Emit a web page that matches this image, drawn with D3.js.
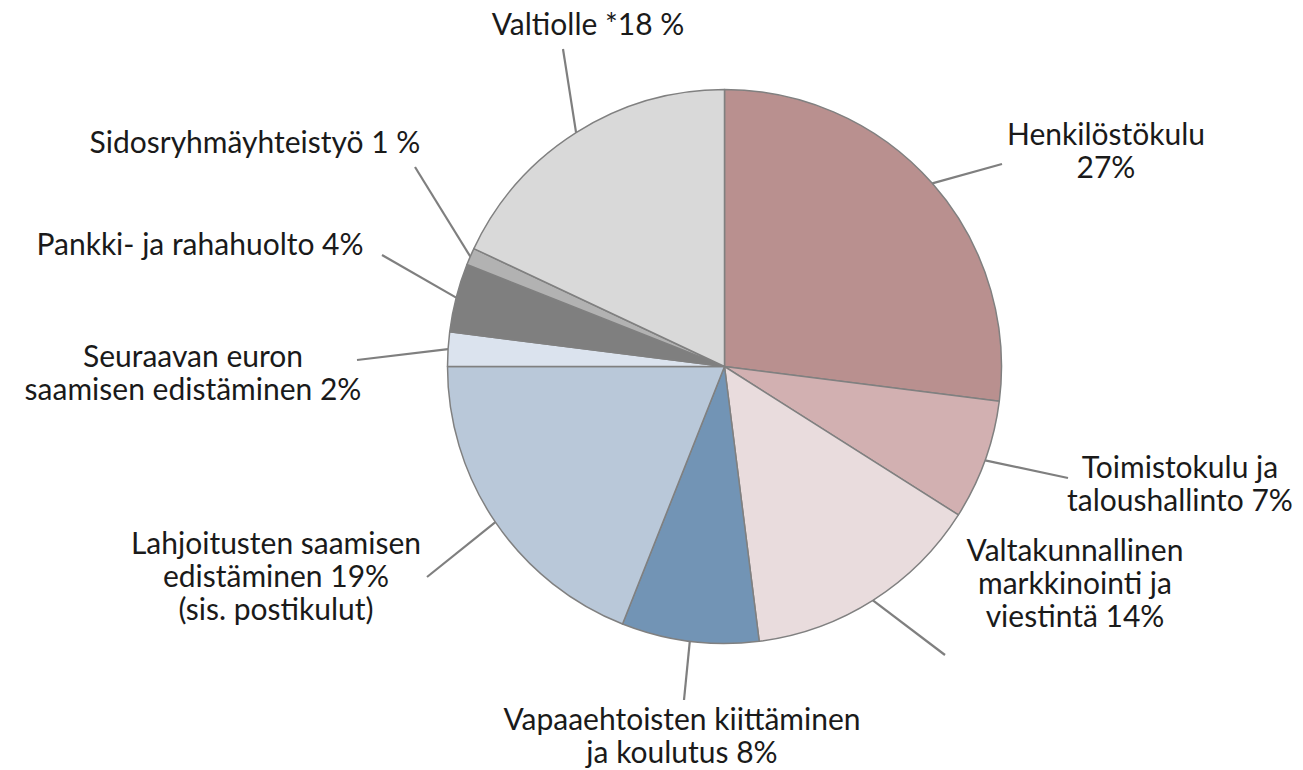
<!DOCTYPE html>
<html>
    <head>
        <meta charset="utf-8">
        <script src="https://cdn.jsdelivr.net/npm/d3@7"></script>
        <title>Kulujen jakauma</title>
    </head>
    <style>
        body { margin: 0; background: #ffffff; }
        text { font-family: Lato, "Open Sans", sans-serif; fill: #1a1a1a; }
    </style>
    <body></body>

    <script>
        // Data (clockwise from 12 o'clock)
        var categories = ["Henkilöstökulu", "Toimistokulu ja taloushallinto", "Valtakunnallinen markkinointi ja viestintä",
                          "Vapaaehtoisten kiittäminen ja koulutus", "Lahjoitusten saamisen edistäminen (sis. postikulut)",
                          "Seuraavan euron saamisen edistäminen", "Pankki- ja rahahuolto", "Sidosryhmäyhteistyö", "Valtiolle"];
        var values = [27, 7, 14, 8, 19, 2, 4, 1, 18];
        var labelLines = [
            ["Henkilöstökulu", "27%"],
            ["Toimistokulu ja", "taloushallinto 7%"],
            ["Valtakunnallinen", "markkinointi ja", "viestintä 14%"],
            ["Vapaaehtoisten kiittäminen", "ja koulutus 8%"],
            ["Lahjoitusten saamisen", "edistäminen 19%", "(sis. postikulut)"],
            ["Seuraavan euron", "saamisen edistäminen 2%"],
            ["Pankki- ja rahahuolto 4%"],
            ["Sidosryhmäyhteistyö 1 %"],
            ["Valtiolle *18 %"]
        ];
        var colors = ["#b9908f", "#d2b0b1", "#e9dcdd", "#7294b5", "#b9c8d9", "#dbe3ee", "#7f7f7f", "#b2b2b2", "#d9d9d9"];

        // Label layout: [centre x, first baseline, leader start x, leader start y]
        var labelPos = [
            [1106, 145, 1002, 164],
            [1180, 478, 1068, 478],
            [1075, 561, 945, 655],
            [682, 730, 684, 700],
            [276, 554, 427, 577],
            [193, 367, 357, 360],
            [200, 255, 382, 255],
            [255, 153, 415, 167],
            [588, 35, 563, 49]
        ];

        var width = 1303;
        var height = 770;
        var cx = 724.5;
        var cy = 366.5;
        var radius = 277;
        var lineHeight = 33;

        var svg = d3.select("body")
                    .append("svg")
                    .attr("width", width)
                    .attr("height", height);

        var pie = d3.pie()
                    .sort(null)
                    .value(function(d){ return d; });

        var arcs = pie(values);

        var arc = d3.arc()
                    .innerRadius(0)
                    .outerRadius(radius);

        // edge point in the middle of each slice
        var edgeArc = d3.arc()
                    .innerRadius(radius)
                    .outerRadius(radius);

        var g = svg.append("g")
                   .attr("transform", "translate(" + cx + "," + cy + ")");

        g.selectAll("path.slice")
            .data(arcs)
            .enter()
            .append("path")
            .attr("class", "slice")
            .attr("d", arc)
            .attr("fill", function(d, i){ return colors[i]; })
            .attr("stroke", "#808080")
            .attr("stroke-width", 1.5)
            .attr("stroke-linejoin", "round");

        // Leader lines
        svg.selectAll("line.leader")
            .data(arcs)
            .enter()
            .append("line")
            .attr("class", "leader")
            .attr("x1", function(d, i){ return labelPos[i][2]; })
            .attr("y1", function(d, i){ return labelPos[i][3]; })
            .attr("x2", function(d){ return cx + edgeArc.centroid(d)[0]; })
            .attr("y2", function(d){ return cy + edgeArc.centroid(d)[1]; })
            .attr("stroke", "#7f7f7f")
            .attr("stroke-width", 2.2);

        // Labels
        var labels = svg.selectAll("text.label")
            .data(arcs)
            .enter()
            .append("text")
            .attr("class", "label")
            .attr("text-anchor", "middle")
            .attr("font-size", 30)
            .attr("x", function(d, i){ return labelPos[i][0]; })
            .attr("y", function(d, i){ return labelPos[i][1]; });

        labels.selectAll("tspan")
            .data(function(d, i){ return labelLines[i].map(function(t){ return {t: t, x: labelPos[i][0]}; }); })
            .enter()
            .append("tspan")
            .attr("x", function(d){ return d.x; })
            .attr("dy", function(d, j){ return j === 0 ? 0 : lineHeight; })
            .text(function(d){ return d.t; });
    </script>
</html>
